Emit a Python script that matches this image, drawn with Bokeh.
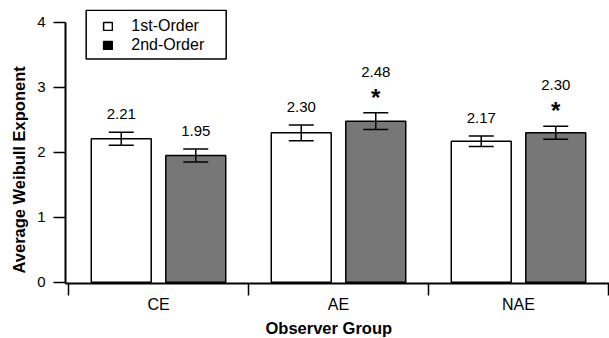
import math
from bokeh.plotting import figure
from bokeh.models import (ColumnDataSource, FixedTicker, LabelSet, Whisker,
                          TeeHead, Legend, LegendItem, Range1d, BoxAnnotation, Title)
from bokeh.embed import file_html
from bokeh.resources import INLINE
from bokeh.core.properties import value

# ---------------- data ----------------
groups = ["CE", "AE", "NAE"]
series_names = ["1st-Order", "2nd-Order"]
first_order = [2.21, 2.30, 2.17]
second_order = [1.95, 2.48, 2.30]
first_err = [0.10, 0.12, 0.08]
second_err = [0.10, 0.13, 0.10]
first_sig = [False, False, False]
second_sig = [False, True, True]
y_ticks = [0, 1, 2, 3, 4]

FONT = "Liberation Sans"
GRAY = "#777777"
DODGE = 0.207
BAR_W = 0.333

def make_source(vals, errs, sig, dodge):
    xs = [i + 0.5 + dodge for i in range(len(vals))]
    return ColumnDataSource(dict(
        x=xs,
        top=vals,
        upper=[v + e for v, e in zip(vals, errs)],
        lower=[v - e for v, e in zip(vals, errs)],
        label=["%.2f" % v for v in vals],
        off=[41 if s else 18 for s in sig],
    ))

src1 = make_source(first_order, first_err, first_sig, -DODGE)
src2 = make_source(second_order, second_err, second_sig, DODGE)

p = figure(width=609, height=338,
           x_range=Range1d(-0.0167, 3.0056), y_range=Range1d(-0.02, 4.2),
           output_backend="svg", toolbar_location=None,
           min_border_left=65, min_border_right=0, min_border_top=9,
           min_border_bottom=55)
p.xgrid.grid_line_color = None
p.ygrid.grid_line_color = None
p.outline_line_color = None
p.background_fill_color = "white"

r1 = p.vbar(x="x", top="top", bottom=0, width=BAR_W, source=src1,
            fill_color="white", line_color="black", line_width=1.5)
r2 = p.vbar(x="x", top="top", bottom=0, width=BAR_W, source=src2,
            fill_color=GRAY, line_color="black", line_width=1.5)

for src in (src1, src2):
    w = Whisker(base="x", upper="upper", lower="lower", source=src,
                dimension="height", line_color="black", line_width=1.5,
                upper_head=TeeHead(size=25, line_color="black", line_width=1.5),
                lower_head=TeeHead(size=25, line_color="black", line_width=1.5),
                level="overlay")
    p.add_layout(w)
    p.add_layout(LabelSet(x="x", y="upper", text="label", source=src,
                          y_offset="off", text_align="center",
                          text_baseline="middle", text_font=value(FONT),
                          text_font_size="15px", text_color="black"))

# significance stars
for vals, errs, sig, dodge in ((first_order, first_err, first_sig, -DODGE),
                               (second_order, second_err, second_sig, DODGE)):
    idx = [i for i, s in enumerate(sig) if s]
    if idx:
        ssrc = ColumnDataSource(dict(
            x=[i + 0.5 + dodge for i in idx],
            y=[vals[i] + errs[i] for i in idx],
            t=["*" for _ in idx]))
        p.add_layout(LabelSet(x="x", y="y", text="t", source=ssrc, y_offset=7,
                              text_align="center", text_baseline="alphabetic",
                              text_font=value(FONT), text_font_style="bold",
                              text_font_size="24px", text_color="black"))

# axes
ya = p.yaxis[0]
ya.ticker = FixedTicker(ticks=y_ticks)
ya.bounds = (-0.02, 4)
ya.axis_line_width = 2
ya.major_tick_line_width = 1.5
ya.major_tick_out = 12
ya.major_tick_in = 0
ya.minor_tick_line_color = None
ya.major_label_standoff = 8
ya.major_label_text_font = FONT
ya.major_label_text_font_size = "15px"
ya.major_label_text_color = "black"

xa = p.xaxis[0]
xa.ticker = FixedTicker(ticks=[i + 0.5 for i in range(len(groups))],
                        minor_ticks=list(range(len(groups) + 1)))
xa.major_label_overrides = {i + 0.5: g for i, g in enumerate(groups)}
xa.axis_line_width = 2
xa.major_tick_out = 0
xa.major_tick_in = 0
xa.minor_tick_out = 12
xa.minor_tick_in = 0
xa.minor_tick_line_color = "black"
xa.minor_tick_line_width = 1.5
xa.major_label_standoff = 0
xa.major_label_text_font = FONT
xa.major_label_text_font_size = "16px"
xa.major_label_text_color = "black"

# axis titles as side-panel titles (positioned like the reference)
p.add_layout(Title(text="Average Weibull Exponent", align="left", offset=10,
                   standoff=13, text_font=FONT, text_font_style="bold",
                   text_font_size="16.5px", text_color="black"), "left")
p.add_layout(Title(text="Observer Group", align="left", offset=200,
                   standoff=2, text_font=FONT, text_font_style="bold",
                   text_font_size="16.5px", text_color="black"), "below")

# legend (box drawn separately so the spacing can match)
p.add_layout(BoxAnnotation(left=20.7, right=160.7, bottom=224.6, top=273.3,
                           left_units="screen", right_units="screen",
                           bottom_units="screen", top_units="screen",
                           fill_color="white", fill_alpha=1,
                           line_color="black", line_alpha=1, line_width=1.5))
nan = float("nan")
lg1 = p.vbar(x=[nan], top=[nan], width=BAR_W, fill_color="white",
             line_color="black", line_width=1.5)
lg2 = p.vbar(x=[nan], top=[nan], width=BAR_W, fill_color="black",
             line_color="black", line_width=1.5)
legend = Legend(items=[LegendItem(label=series_names[0], renderers=[lg1]),
                       LegendItem(label=series_names[1], renderers=[lg2])],
                location=(37.3, 229), padding=0, margin=0, spacing=1,
                glyph_width=11, glyph_height=10, label_height=10,
                label_standoff=18, label_text_font=FONT,
                label_text_font_size="16px", label_text_color="black",
                border_line_color=None, background_fill_alpha=0)
p.add_layout(legend)

open("out.html", "w").write(file_html(p, INLINE))
